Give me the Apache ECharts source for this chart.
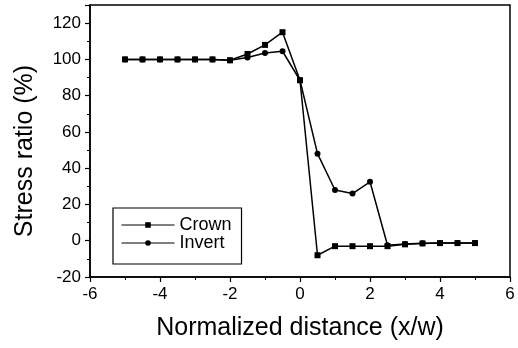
<!DOCTYPE html>
<html>
<head>
<meta charset="utf-8">
<script src="https://cdn.jsdelivr.net/npm/echarts@6/dist/echarts.min.js"></script>
<style>
  html, body { margin: 0; padding: 0; background: #fff; }
  #chart { width: 518px; height: 348px; }
</style>
</head>
<body>
<div id="chart"></div>
<script>
const xValues = [-5, -4.5, -4, -3.5, -3, -2.5, -2, -1.5, -1, -0.5, 0, 0.5, 1, 1.5, 2, 2.5, 3, 3.5, 4, 4.5, 5]
const crown = [100, 100, 100, 100, 100, 100, 99.5, 103, 108, 115, 88.5, -8, -3, -3, -3, -3, -2, -1.5, -1.3, -1.3, -1.3]
const invert = [100, 100, 100, 100, 100, 100, 99.5, 101, 103.5, 104.5, 88.5, 48, 28, 26, 32.5, -2.5, -1.8, -1.4, -1.2, -1.2, -1.2]

const toPairs = (ys) => xValues.map((x, i) => [x, ys[i]])

const chart = echarts.init(document.getElementById("chart"))

const axisCommon = {
  axisLine: { show: true, onZero: false, lineStyle: { color: "#000", width: 1.5 } },
  axisTick: { show: true, inside: false, length: 5, lineStyle: { color: "#000", width: 1.2 } },
  minorTick: { show: true, splitNumber: 2, length: 3, lineStyle: { color: "#000", width: 1 } },
  splitLine: { show: false },
  axisLabel: { color: "#000", fontSize: 17, margin: 9, fontFamily: "Liberation Sans" },
  nameTextStyle: { color: "#000", fontSize: 25, fontFamily: "Liberation Sans" },
}

const option = {
  backgroundColor: "#fff",
  animation: false,
  grid: {
    left: 90,
    right: 8,
    top: 5,
    bottom: 71,
    show: true,
    borderColor: "#000",
    borderWidth: 1.5,
  },
  legend: {
    orient: "vertical",
    left: 113,
    top: 208,
    padding: [8, 10, 12, 8],
    itemGap: 0,
    itemWidth: 53,
    itemHeight: 7,
    borderColor: "#000",
    borderWidth: 1.2,
    backgroundColor: "#fff",
    lineStyle: { width: 1 },
    textStyle: { color: "#000", fontSize: 18, lineHeight: 17, fontFamily: "Liberation Sans" },
    data: ["Crown", "Invert"],
  },
  xAxis: {
    ...axisCommon,
    type: "value",
    min: -6,
    max: 6,
    interval: 2,
    name: "Normalized distance (x/w)",
    nameLocation: "middle",
    nameGap: 39,
  },
  yAxis: {
    ...axisCommon,
    type: "value",
    min: -20,
    max: 130,
    interval: 20,
    name: "Stress ratio (%)",
    nameLocation: "middle",
    nameGap: 52,
    nameTextStyle: { ...axisCommon.nameTextStyle, padding: [0, 20, 0, 0] },
    axisLabel: { ...axisCommon.axisLabel, showMaxLabel: false },
  },
  series: [
    {
      name: "Crown",
      type: "line",
      data: toPairs(crown),
      symbol: "rect",
      symbolSize: 6,
      lineStyle: { color: "#000", width: 1.5 },
      itemStyle: { color: "#000" },
    },
    {
      name: "Invert",
      type: "line",
      data: toPairs(invert),
      symbol: "circle",
      symbolSize: 6,
      lineStyle: { color: "#000", width: 1.5 },
      itemStyle: { color: "#000" },
    },
  ],
}

chart.setOption(option)
</script>
</body>
</html>
